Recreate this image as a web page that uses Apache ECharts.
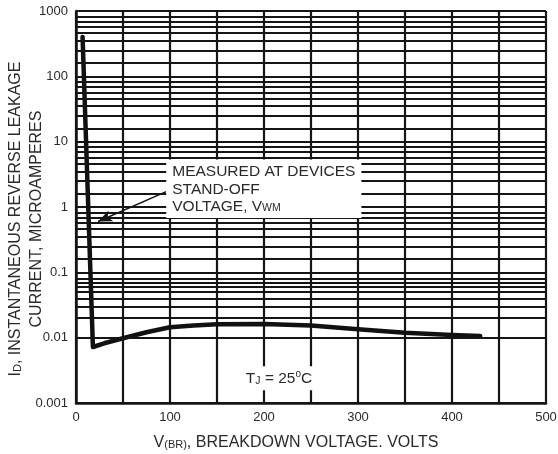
<!DOCTYPE html>
<html>
<head>
<meta charset="utf-8">
<script src="https://cdn.jsdelivr.net/npm/echarts@6/dist/echarts.min.js"></script>
<style>
html,body{margin:0;padding:0;background:#fff;}
#chart{width:558px;height:454px;}
</style>
</head>
<body>
<div id="chart"></div>
<script>
// Breakdown voltage (V) and leakage current (µA)
const voltage = [7, 18, 30, 50, 75, 100, 125, 150, 200, 250, 300, 350, 400, 430];
const leakage = [400, 0.0072, 0.0082, 0.0098, 0.0121, 0.0144, 0.0154, 0.016, 0.0162, 0.0153, 0.0135, 0.0119, 0.011, 0.0106];
// y-axis decades and the intermediate graph-paper lines within each decade
const decades = [0.001, 0.01, 0.1, 1, 10, 100];
const gridFactors = [1.6, 2.5, 3.5, 4.6, 5.7, 6.9, 8.3];
const yTicks = ['0.001', '0.01', '0.1', '1', '10', '100', '1000'];
const xTicks = [0, 100, 200, 300, 400, 500];
// annotations (data coordinates)
const noteAnchor = [96, 1.9];
const arrowFrom = [96, 1.72];
const arrowTo = [23.5, 0.6];
const tempAnchor = [216, 0.0024];

const FONT = '"Liberation Sans", Arial, sans-serif';
const INK = '#151515';
const TXT = '#2a2a2a';

const minorLines = [];
decades.forEach(d => gridFactors.forEach(f => minorLines.push({ yAxis: +(d * f).toPrecision(4) })));

const chart = echarts.init(document.getElementById('chart'), null, { renderer: 'canvas' });
chart.setOption({
  animation: false,
  backgroundColor: '#fff',
  grid: { left: 76, right: 12, top: 11, bottom: 51, show: false, containLabel: false, outerBoundsMode: 'none' },
  xAxis: {
    type: 'value', min: 0, max: 500, interval: 100,
    axisLine: { show: true, lineStyle: { color: INK, width: 2.5 } },
    axisTick: { show: false },
    axisLabel: { color: TXT, fontSize: 13, fontFamily: FONT, margin: 8,
      formatter: v => xTicks.includes(v) ? String(v) : '' },
    splitLine: { show: true, lineStyle: { color: INK, width: 2.2 } },
    minorTick: { show: false, splitNumber: 2 },
    minorSplitLine: { show: true, lineStyle: { color: INK, width: 2.2 } },
    name: '{a|V}{s|(BR)}{a|, BREAKDOWN VOLTAGE. VOLTS}',
    nameLocation: 'middle', nameGap: 30, nameMoveOverlap: false,
    nameTextStyle: {
      padding: [0, 30, 0, 0],
      rich: {
        a: { fontSize: 16, fontFamily: FONT, color: TXT, lineHeight: 18, verticalAlign: 'bottom' },
        s: { fontSize: 11, fontFamily: FONT, color: TXT, lineHeight: 18, verticalAlign: 'bottom', padding: [0, 0, 1, 0] }
      }
    }
  },
  yAxis: {
    type: 'log', logBase: 10, min: 0.001, max: 1000, splitNumber: 6,
    axisLine: { show: true, onZero: false, lineStyle: { color: INK, width: 2.5 } },
    axisTick: { show: false },
    axisLabel: { color: TXT, fontSize: 13, fontFamily: FONT, margin: 8,
      formatter: v => { const s = String(+v.toPrecision(3)); return yTicks.includes(s) ? s : ''; } },
    splitLine: { show: true, lineStyle: { color: INK, width: 2.2 } },
    minorTick: { show: false },
    minorSplitLine: { show: false },
    name: '{a|I}{s|D}{a|, INSTANTANEOUS REVERSE LEAKAGE}\n{a|CURRENT, MICROAMPERES}',
    nameLocation: 'middle', nameRotate: 90, nameGap: 31, nameMoveOverlap: false,
    nameTextStyle: {
      align: 'center',
      padding: [0, 24, 0, 0],
      rich: {
        a: { fontSize: 16, fontFamily: FONT, color: TXT, lineHeight: 21, verticalAlign: 'bottom' },
        s: { fontSize: 11, fontFamily: FONT, color: TXT, lineHeight: 21, verticalAlign: 'bottom', padding: [0, 0, 1, 0] }
      }
    }
  },
  series: [
    {
      // graph-paper minor lines
      type: 'line', data: [], z: 1, silent: true,
      markLine: {
        silent: true, symbol: ['none', 'none'], animation: false,
        label: { show: false },
        lineStyle: { color: INK, width: 2.2, type: 'solid' },
        emphasis: { disabled: true },
        data: minorLines
      }
    },
    {
      type: 'line', z: 4, silent: true,
      data: voltage.map((v, i) => [v, leakage[i]]),
      showSymbol: false, symbol: 'none', smooth: false,
      lineStyle: { color: '#111', width: 4.5, join: 'round', cap: 'round' }
    },
    {
      type: 'line', data: [], z: 6, silent: true,
      markLine: {
        silent: true, symbol: ['none', 'arrow'], symbolSize: [9, 14], animation: false,
        label: { show: false },
        lineStyle: { color: INK, width: 1.5, type: 'solid' },
        emphasis: { disabled: true },
        data: [[{ coord: arrowFrom }, { coord: arrowTo }]]
      },
      markPoint: {
        silent: true, symbol: 'rect', symbolSize: 1, itemStyle: { color: 'rgba(0,0,0,0)' },
        animation: false,
        data: [
          {
            coord: noteAnchor,
            label: {
              show: true, position: 'inside', align: 'left', verticalAlign: 'middle',
              backgroundColor: '#fff', padding: [3, 6, 3, 6],
              formatter: '{a|MEASURED AT DEVICES}\n{a|STAND-OFF}\n{a|VOLTAGE, V}{s|WM}',
              rich: {
                a: { fontSize: 15.5, fontFamily: FONT, color: TXT, lineHeight: 17.5, verticalAlign: 'bottom' },
                s: { fontSize: 10.5, fontFamily: FONT, color: TXT, lineHeight: 17.5, verticalAlign: 'bottom', padding: [0, 0, 1, 0] }
              }
            }
          },
          {
            coord: tempAnchor,
            label: {
              show: true, position: 'inside', align: 'center', verticalAlign: 'middle',
              backgroundColor: '#fff', padding: [3, 6, 3, 6],
              formatter: '{a|T}{s|J}{a| = 25}{p|o}{a|C}',
              rich: {
                a: { fontSize: 15.5, fontFamily: FONT, color: TXT, lineHeight: 18, verticalAlign: 'bottom' },
                s: { fontSize: 10.5, fontFamily: FONT, color: TXT, lineHeight: 18, verticalAlign: 'bottom', padding: [0, 0, 1, 0] },
                p: { fontSize: 10, fontFamily: FONT, color: TXT, lineHeight: 18, verticalAlign: 'top' }
              }
            }
          }
        ]
      }
    }
  ]
});
</script>
</body>
</html>
